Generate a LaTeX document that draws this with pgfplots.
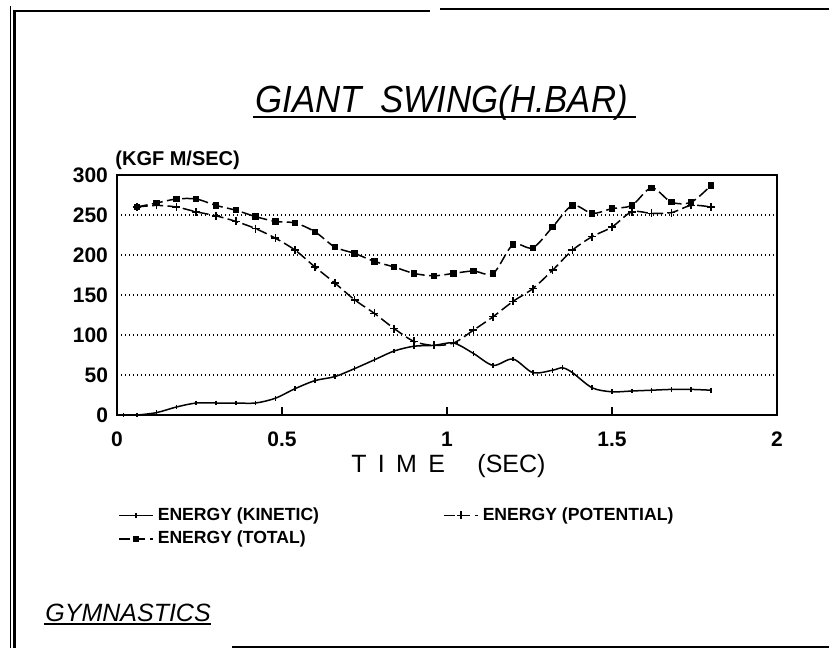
\documentclass[border=0pt]{standalone}
\usepackage{pgfplots}
\pgfplotsset{compat=1.18}
\usepackage{fontspec}
\setmainfont{Liberation Sans}
\newfontfamily\titlefont[FakeStretch=0.92]{Liberation Sans}
\begin{document}
\begin{tikzpicture}[x=0.5pt,y=-0.5pt]
\useasboundingbox (0,0) rectangle (829,648);
% scanned page frame
\draw[line width=0.9pt] (10.5,6) -- (10.5,648);
\draw[line width=1.4pt] (14.5,11) -- (14.5,648);
\draw[line width=1.4pt] (13,11) -- (430,11);
\draw[line width=1.4pt] (440,9) -- (829,9);
\draw[line width=1.2pt] (232,647) -- (829,647);
\begin{axis}[
  at={(58.5pt,-207.5pt)}, anchor=south west,
  scale only axis, width=330pt, height=120pt,
  xmin=0, xmax=2, ymin=0, ymax=300,
  xtick={0,0.5,1,1.5,2}, ytick={0,50,...,300},
  xtick pos=left, tick align=inside,
  major tick length=4pt,
  xtick style={black, line width=0.8pt},
  ytick style={draw=none},
  axis line style={line width=0.9pt},
  ymajorgrids,
  grid style={black, line width=0.7pt, dash pattern=on 0.7pt off 1.3pt},
  /pgf/number format/assume math mode=true,
  ticklabel style={font=\fontsize{10.5}{12}\bfseries\selectfont},
  xticklabel style={yshift=-5pt},
  yticklabel style={xshift=-1pt},
  legend style={at={(axis description cs:-0.008,-0.35)}, anchor=north west,
    draw=none, fill=none, font=\fontsize{8.8}{10}\bfseries\selectfont,
    /tikz/every even column/.append style={column sep=60pt}},
  legend columns=2,
  legend cell align=left,
]
\addplot[black, line width=0.75pt, smooth, mark=|, mark size=1.2pt] coordinates {
(0.02,0) (0.06,0) (0.12,3) (0.18,10) (0.24,15) (0.30,15) (0.36,15) (0.42,15)
(0.48,21) (0.54,33) (0.60,43) (0.66,48) (0.72,58) (0.78,69) (0.84,80) (0.90,86)
(0.96,87) (1.02,90) (1.08,77) (1.14,62) (1.20,70) (1.26,53) (1.32,56) (1.35,59)
(1.38,53) (1.44,34) (1.50,29) (1.56,30) (1.62,31) (1.68,32) (1.74,32) (1.80,31)
};
\addlegendentry{ENERGY (KINETIC)}
\addplot[black, line width=0.75pt, smooth, dash pattern=on 5.5pt off 2.2pt, mark=+, mark size=2pt, mark options={solid}] coordinates {
(0.06,260) (0.12,262) (0.18,260) (0.24,254) (0.30,249) (0.36,242) (0.42,233)
(0.48,221) (0.54,206) (0.60,185) (0.66,165) (0.72,144) (0.78,127) (0.84,108)
(0.90,92) (0.96,87) (1.02,90) (1.08,106) (1.14,123) (1.20,142) (1.26,158)
(1.32,181) (1.38,206) (1.44,223) (1.50,235) (1.56,254) (1.62,252) (1.68,253)
(1.74,262) (1.80,260)
};
\addlegendentry{ENERGY (POTENTIAL)}
\addplot[black, line width=0.75pt, smooth, dash pattern=on 5.5pt off 2.2pt, mark=square*, mark size=1.2pt, mark options={solid}] coordinates {
(0.06,260) (0.12,265) (0.18,270) (0.24,270) (0.30,262) (0.36,256) (0.42,248)
(0.48,242) (0.54,240) (0.60,229) (0.66,210) (0.72,202) (0.78,192) (0.84,185)
(0.90,177) (0.96,174) (1.02,177) (1.08,180) (1.14,177) (1.20,213) (1.26,209)
(1.32,235) (1.38,262) (1.44,252) (1.50,258) (1.56,262) (1.62,284) (1.68,266)
(1.74,266) (1.80,287)
};
\addlegendentry{ENERGY (TOTAL)}
\end{axis}
% texts
\node[anchor=base west, inner sep=0pt] at (255,112) {\titlefont\itshape\fontsize{18.9}{22}\selectfont GIANT\hspace{0.5em}SWING(H.BAR)};
\draw[line width=1pt] (253,117) -- (636,117);
\node[anchor=base west, inner sep=0pt] at (115,165) {\fontsize{10}{12}\bfseries\selectfont (KGF M/SEC)};
\node[anchor=base, inner sep=0pt] at (448.5,472) {\fontsize{12.5}{15}\selectfont T\hspace{0.45em}I\hspace{0.45em}M\hspace{0.45em}E\hspace{1.3em}(SEC)};
\node[anchor=base west, inner sep=0pt] at (45,621) {\itshape\fontsize{12.5}{15}\selectfont GYMNASTICS};
\draw[line width=0.9pt] (44,624) -- (211,624);
\end{tikzpicture}
\end{document}
